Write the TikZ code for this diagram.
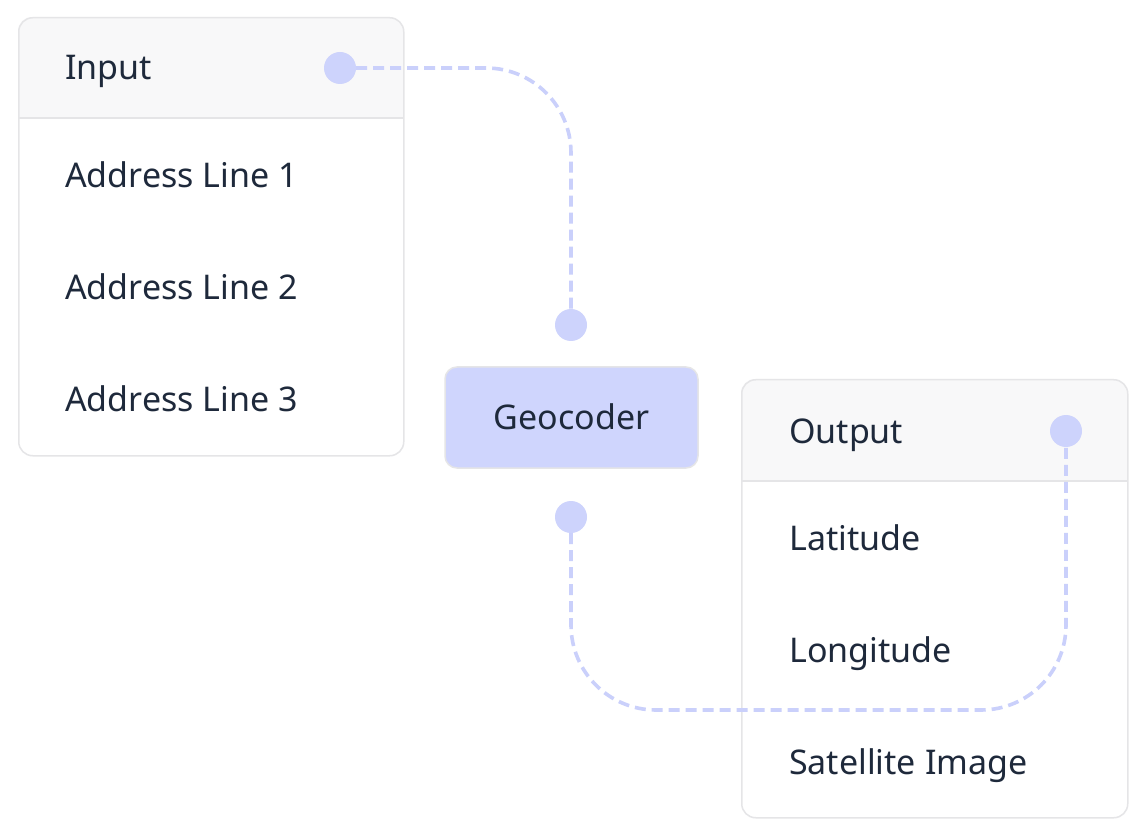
\documentclass[tikz,border=0pt]{standalone}
\usepackage{fontspec}
\setmainfont{Noto Sans}
\definecolor{txt}{HTML}{1E293B}
\definecolor{bord}{HTML}{E5E5E7}
\definecolor{hdr}{HTML}{F8F8F9}
\definecolor{port}{HTML}{CDD3FC}
\definecolor{dashc}{HTML}{CAD0FB}
\definecolor{geo}{HTML}{CFD5FD}
\tikzset{
  panel/.style={draw=bord, line width=1.5pt, rounded corners=14pt, anchor=north west, inner sep=0pt},
  label/.style={anchor=base west, text=txt, font=\fontsize{34}{40}\selectfont, inner sep=0pt},
  portdot/.style={circle, fill=port, minimum size=32pt, inner sep=0pt},
  link/.style={draw=dashc, line width=3.6pt, dash pattern=on 11pt off 6pt, rounded corners=85pt},
  sep/.style={draw=bord, line width=1.5pt}
}
\begin{document}
\begin{tikzpicture}[x=1pt,y=-1pt]
\useasboundingbox[fill=white] (0,0) rectangle (1144,834);
% Input panel
\begin{scope}
  \clip[rounded corners=14pt] (18,17) rectangle (403,455);
  \fill[hdr] (18,17) rectangle (403,118);
\end{scope}
\node[panel, minimum width=385pt, minimum height=438pt] (inbox) at (18,17) {};
\draw[sep] (18,118) -- (403,118);
\node[label] (inlbl) at (65,80) {Input};
\node[label] (a1) at (65,188) {Address Line 1};
\node[label] (a2) at (65,300) {Address Line 2};
\node[label] (a3) at (65,412) {Address Line 3};
% Output panel
\begin{scope}
  \clip[rounded corners=14pt] (741,379) rectangle (1127,817);
  \fill[hdr] (741,379) rectangle (1127,481);
\end{scope}
\node[panel, minimum width=386pt, minimum height=438pt] (outbox) at (741,379) {};
\draw[sep] (741,481) -- (1127,481);
\node[label] (outlbl) at (789,443) {Output};
\node[label] (lat) at (789,550) {Latitude};
\node[label] (lon) at (789,662) {Longitude};
\node[label] (sat) at (789,774) {Satellite Image};
% Geocoder
\node[draw=bord, fill=geo, line width=1.5pt, rounded corners=12pt, minimum width=253pt, minimum height=101pt, inner sep=0pt] (geo) at (571.5,417.5) {};
\node[label, anchor=base] (geolbl) at (571.5,430) {Geocoder};
% ports
\node[portdot] (pin) at (340,68) {};
\node[portdot] (gtop) at (571,325) {};
\node[portdot] (gbot) at (571,517) {};
\node[portdot] (pout) at (1066,431) {};
% connectors
\coordinate (c1) at (571,68);
\coordinate (c2) at (571,710);
\coordinate (c3) at (1066,710);
\draw[link] (pin.east) -- (c1) -- (gtop.north);
\draw[link] (gbot.south) -- (c2) -- (c3) -- (pout.south);
\end{tikzpicture}
\end{document}
